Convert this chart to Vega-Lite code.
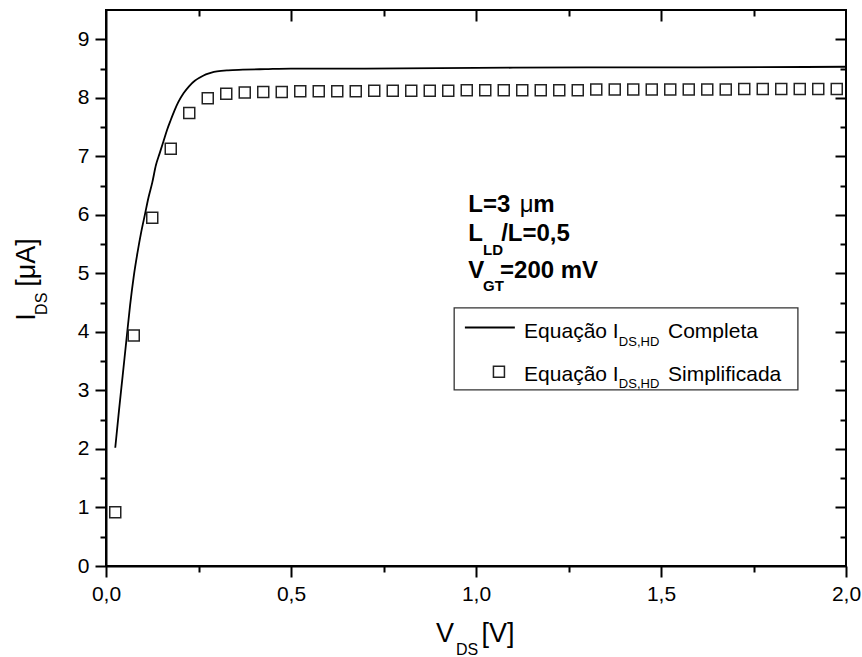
{
  "$schema": "https://vega.github.io/schema/vega-lite/v6.json",
  "width": 740,
  "height": 556,
  "autosize": {"type": "none"},
  "padding": {"left": 106, "top": 10, "right": 16, "bottom": 91},
  "background": "white",
  "config": {
    "view": {"stroke": "black", "strokeWidth": 2}
  },
  "datasets": {
    "completa": [
      {"V": 0.025, "I": 2.02}, {"V": 0.035, "I": 2.65}, {"V": 0.045, "I": 3.25}, {"V": 0.055, "I": 3.85},
      {"V": 0.065, "I": 4.45}, {"V": 0.075, "I": 4.95}, {"V": 0.085, "I": 5.35}, {"V": 0.095, "I": 5.7},
      {"V": 0.105, "I": 6.0}, {"V": 0.115, "I": 6.3}, {"V": 0.125, "I": 6.55}, {"V": 0.135, "I": 6.85},
      {"V": 0.145, "I": 7.05}, {"V": 0.155, "I": 7.25}, {"V": 0.165, "I": 7.45}, {"V": 0.175, "I": 7.62},
      {"V": 0.185, "I": 7.78}, {"V": 0.195, "I": 7.92}, {"V": 0.21, "I": 8.08}, {"V": 0.225, "I": 8.2},
      {"V": 0.24, "I": 8.29}, {"V": 0.255, "I": 8.35}, {"V": 0.27, "I": 8.4}, {"V": 0.285, "I": 8.43},
      {"V": 0.3, "I": 8.45}, {"V": 0.33, "I": 8.47}, {"V": 0.37, "I": 8.48}, {"V": 0.43, "I": 8.49},
      {"V": 0.5, "I": 8.5}, {"V": 0.7, "I": 8.5}, {"V": 1.0, "I": 8.51}, {"V": 1.3, "I": 8.52},
      {"V": 1.6, "I": 8.52}, {"V": 2.0, "I": 8.53}
    ],
    "simplificada": [
      {"V": 0.025, "I": 0.92}, {"V": 0.075, "I": 3.94}, {"V": 0.125, "I": 5.95}, {"V": 0.175, "I": 7.13},
      {"V": 0.225, "I": 7.74}, {"V": 0.275, "I": 7.99}, {"V": 0.325, "I": 8.07}, {"V": 0.375, "I": 8.09},
      {"V": 0.425, "I": 8.1}, {"V": 0.475, "I": 8.1}, {"V": 0.525, "I": 8.11}, {"V": 0.575, "I": 8.11},
      {"V": 0.625, "I": 8.11}, {"V": 0.675, "I": 8.11}, {"V": 0.725, "I": 8.12}, {"V": 0.775, "I": 8.12},
      {"V": 0.825, "I": 8.12}, {"V": 0.875, "I": 8.12}, {"V": 0.925, "I": 8.12}, {"V": 0.975, "I": 8.13},
      {"V": 1.025, "I": 8.13}, {"V": 1.075, "I": 8.13}, {"V": 1.125, "I": 8.13}, {"V": 1.175, "I": 8.13},
      {"V": 1.225, "I": 8.13}, {"V": 1.275, "I": 8.13}, {"V": 1.325, "I": 8.14}, {"V": 1.375, "I": 8.14},
      {"V": 1.425, "I": 8.14}, {"V": 1.475, "I": 8.14}, {"V": 1.525, "I": 8.14}, {"V": 1.575, "I": 8.14},
      {"V": 1.625, "I": 8.14}, {"V": 1.675, "I": 8.14}, {"V": 1.725, "I": 8.15}, {"V": 1.775, "I": 8.15},
      {"V": 1.825, "I": 8.15}, {"V": 1.875, "I": 8.15}, {"V": 1.925, "I": 8.15}, {"V": 1.975, "I": 8.15}
    ]
  },
  "resolve": {"axis": {"x": "independent", "y": "independent"}},
  "layer": [
    {
      "data": {"name": "completa"},
      "mark": {"type": "line", "color": "black", "strokeWidth": 1.8, "interpolate": "monotone"},
      "encoding": {
        "x": {"field": "V", "type": "quantitative", "scale": {"domain": [0, 2], "nice": false, "zero": false},
          "axis": {"orient": "bottom", "values": [0, 0.5, 1, 1.5, 2], "grid": false, "domain": true, "domainColor": "black", "domainWidth": 2, "tickColor": "black", "tickWidth": 2, "tickSize": 11, "labelPadding": 6, "labelFont": "Liberation Sans", "labelFontSize": 21, "labelColor": "black", "labelExpr": "replace(format(datum.value, '.1f'), '.', ',')", "title": null, "labelFlush": false, "labelOverlap": false}},
        "y": {"field": "I", "type": "quantitative", "scale": {"domain": [0, 9.5], "nice": false},
          "axis": {"orient": "left", "values": [0, 1, 2, 3, 4, 5, 6, 7, 8, 9], "grid": false, "domain": true, "domainColor": "black", "domainWidth": 2, "tickColor": "black", "tickWidth": 2, "tickSize": 11, "labelPadding": 6, "labelFont": "Liberation Sans", "labelFontSize": 21, "labelColor": "black", "format": "d", "title": null, "labelFlush": false, "labelOverlap": false}}
      }
    },
    {
      "data": {"name": "simplificada"},
      "mark": {"type": "point", "shape": "square", "filled": false, "size": 121, "color": "#222222", "strokeWidth": 1.5, "opacity": 1},
      "encoding": {
        "x": {"field": "V", "type": "quantitative", "axis": {"orient": "bottom", "values": [0.25, 0.75, 1.25, 1.75], "grid": false, "tickColor": "black", "tickWidth": 2, "tickSize": 6, "labels": false, "domain": false, "title": null}},
        "y": {"field": "I", "type": "quantitative", "axis": {"orient": "left", "values": [0.5, 1.5, 2.5, 3.5, 4.5, 5.5, 6.5, 7.5, 8.5], "grid": false, "tickColor": "black", "tickWidth": 2, "tickSize": 6, "labels": false, "domain": false, "title": null}}
      }
    },
    {
      "data": {"name": "completa"},
      "mark": {"type": "point", "opacity": 0},
      "encoding": {
        "x": {"field": "V", "type": "quantitative", "axis": {"orient": "top", "values": [0.5, 1, 1.5], "grid": false, "tickColor": "black", "tickWidth": 2, "tickSize": 11, "offset": -11, "labels": false, "domain": false, "title": null}},
        "y": {"field": "I", "type": "quantitative", "axis": {"orient": "right", "values": [1, 2, 3, 4, 5, 6, 7, 8, 9], "grid": false, "tickColor": "black", "tickWidth": 2, "tickSize": 11, "offset": -11, "labels": false, "domain": false, "title": null}}
      }
    },
    {
      "data": {"name": "completa"},
      "mark": {"type": "point", "opacity": 0},
      "encoding": {
        "x": {"field": "V", "type": "quantitative", "axis": {"orient": "top", "values": [0.25, 0.75, 1.25, 1.75], "grid": false, "tickColor": "black", "tickWidth": 2, "tickSize": 6, "offset": -6, "labels": false, "domain": false, "title": null}},
        "y": {"field": "I", "type": "quantitative", "axis": {"orient": "right", "values": [0.5, 1.5, 2.5, 3.5, 4.5, 5.5, 6.5, 7.5, 8.5], "grid": false, "tickColor": "black", "tickWidth": 2, "tickSize": 6, "offset": -6, "labels": false, "domain": false, "title": null}}
      }
    },
    {"data": {"values": [{}]}, "mark": {"type": "rect", "fill": "white", "fillOpacity": 0, "stroke": "#333333", "strokeWidth": 1.3},
      "encoding": {"x": {"datum": 0.941, "axis": null}, "x2": {"datum": 1.87}, "y": {"datum": 4.41, "axis": null}, "y2": {"datum": 3.01}}},
    {"data": {"values": [{}]}, "mark": {"type": "rule", "color": "black", "strokeWidth": 1.8},
      "encoding": {"x": {"datum": 0.97, "axis": null}, "x2": {"datum": 1.105}, "y": {"datum": 4.075, "axis": null}}},
    {"data": {"values": [{}]}, "mark": {"type": "point", "shape": "square", "filled": false, "size": 121, "color": "#222222", "strokeWidth": 1.5, "opacity": 1},
      "encoding": {"x": {"datum": 1.062, "axis": null}, "y": {"datum": 3.32, "axis": null}}},
    {"data": {"values": [{}]}, "mark": {"type": "text", "text": "Equação I", "font": "Liberation Sans", "fontSize": 21, "color": "black", "align": "left", "baseline": "alphabetic"},
      "encoding": {"x": {"datum": 1.13, "axis": null}, "y": {"datum": 3.894, "axis": null}}},
    {"data": {"values": [{}]}, "mark": {"type": "text", "text": "DS,HD", "font": "Liberation Sans", "fontSize": 13, "color": "black", "align": "left", "baseline": "alphabetic"},
      "encoding": {"x": {"datum": 1.386, "axis": null}, "y": {"datum": 3.753, "axis": null}}},
    {"data": {"values": [{}]}, "mark": {"type": "text", "text": "Completa", "font": "Liberation Sans", "fontSize": 21, "color": "black", "align": "left", "baseline": "alphabetic"},
      "encoding": {"x": {"datum": 1.519, "axis": null}, "y": {"datum": 3.894, "axis": null}}},
    {"data": {"values": [{}]}, "mark": {"type": "text", "text": "Equação I", "font": "Liberation Sans", "fontSize": 21, "color": "black", "align": "left", "baseline": "alphabetic"},
      "encoding": {"x": {"datum": 1.13, "axis": null}, "y": {"datum": 3.163, "axis": null}}},
    {"data": {"values": [{}]}, "mark": {"type": "text", "text": "DS,HD", "font": "Liberation Sans", "fontSize": 13, "color": "black", "align": "left", "baseline": "alphabetic"},
      "encoding": {"x": {"datum": 1.386, "axis": null}, "y": {"datum": 3.038, "axis": null}}},
    {"data": {"values": [{}]}, "mark": {"type": "text", "text": "Simplificada", "font": "Liberation Sans", "fontSize": 21, "color": "black", "align": "left", "baseline": "alphabetic"},
      "encoding": {"x": {"datum": 1.519, "axis": null}, "y": {"datum": 3.163, "axis": null}}},
    {"data": {"values": [{}]}, "mark": {"type": "text", "text": "L=3 ", "font": "Liberation Sans", "fontSize": 24, "fontWeight": "bold", "color": "black", "align": "left", "baseline": "alphabetic"},
      "encoding": {"x": {"datum": 0.979, "axis": null}, "y": {"datum": 6.051, "axis": null}}},
    {"data": {"values": [{}]}, "mark": {"type": "text", "text": "μ", "font": "Liberation Sans", "fontSize": 24, "color": "black", "align": "left", "baseline": "alphabetic"},
      "encoding": {"x": {"datum": 1.118, "axis": null}, "y": {"datum": 6.051, "axis": null}}},
    {"data": {"values": [{}]}, "mark": {"type": "text", "text": "m", "font": "Liberation Sans", "fontSize": 24, "fontWeight": "bold", "color": "black", "align": "left", "baseline": "alphabetic"},
      "encoding": {"x": {"datum": 1.155, "axis": null}, "y": {"datum": 6.051, "axis": null}}},
    {"data": {"values": [{}]}, "mark": {"type": "text", "text": "L", "font": "Liberation Sans", "fontSize": 24, "fontWeight": "bold", "color": "black", "align": "left", "baseline": "alphabetic"},
      "encoding": {"x": {"datum": 0.979, "axis": null}, "y": {"datum": 5.548, "axis": null}}},
    {"data": {"values": [{}]}, "mark": {"type": "text", "text": "LD", "font": "Liberation Sans", "fontSize": 15, "fontWeight": "bold", "color": "black", "align": "left", "baseline": "alphabetic"},
      "encoding": {"x": {"datum": 1.019, "axis": null}, "y": {"datum": 5.32, "axis": null}}},
    {"data": {"values": [{}]}, "mark": {"type": "text", "text": "/L=0,5", "font": "Liberation Sans", "fontSize": 24, "fontWeight": "bold", "color": "black", "align": "left", "baseline": "alphabetic"},
      "encoding": {"x": {"datum": 1.068, "axis": null}, "y": {"datum": 5.548, "axis": null}}},
    {"data": {"values": [{}]}, "mark": {"type": "text", "text": "V", "font": "Liberation Sans", "fontSize": 24, "fontWeight": "bold", "color": "black", "align": "left", "baseline": "alphabetic"},
      "encoding": {"x": {"datum": 0.979, "axis": null}, "y": {"datum": 4.921, "axis": null}}},
    {"data": {"values": [{}]}, "mark": {"type": "text", "text": "GT", "font": "Liberation Sans", "fontSize": 15, "fontWeight": "bold", "color": "black", "align": "left", "baseline": "alphabetic"},
      "encoding": {"x": {"datum": 1.019, "axis": null}, "y": {"datum": 4.692, "axis": null}}},
    {"data": {"values": [{}]}, "mark": {"type": "text", "text": "=200 mV", "font": "Liberation Sans", "fontSize": 24, "fontWeight": "bold", "color": "black", "align": "left", "baseline": "alphabetic"},
      "encoding": {"x": {"datum": 1.065, "axis": null}, "y": {"datum": 4.921, "axis": null}}},
    {"data": {"values": [{}]}, "mark": {"type": "text", "text": "V", "font": "Liberation Sans", "fontSize": 27, "color": "black", "align": "left", "baseline": "alphabetic"},
      "encoding": {"x": {"datum": 0.892, "axis": null}, "y": {"datum": -1.301, "axis": null}}},
    {"data": {"values": [{}]}, "mark": {"type": "text", "text": "DS", "font": "Liberation Sans", "fontSize": 16, "color": "black", "align": "left", "baseline": "alphabetic"},
      "encoding": {"x": {"datum": 0.946, "axis": null}, "y": {"datum": -1.517, "axis": null}}},
    {"data": {"values": [{}]}, "mark": {"type": "text", "text": "[V]", "font": "Liberation Sans", "fontSize": 27, "color": "black", "align": "left", "baseline": "alphabetic"},
      "encoding": {"x": {"datum": 1.015, "axis": null}, "y": {"datum": -1.301, "axis": null}}},
    {"data": {"values": [{}]}, "mark": {"type": "text", "text": "I", "font": "Liberation Sans", "fontSize": 27, "angle": 270, "color": "black", "align": "left", "baseline": "alphabetic"},
      "encoding": {"x": {"datum": -0.192, "axis": null}, "y": {"datum": 4.19, "axis": null}}},
    {"data": {"values": [{}]}, "mark": {"type": "text", "text": "DS", "font": "Liberation Sans", "fontSize": 16, "angle": 270, "color": "black", "align": "left", "baseline": "alphabetic"},
      "encoding": {"x": {"datum": -0.16, "axis": null}, "y": {"datum": 4.29, "axis": null}}},
    {"data": {"values": [{}]}, "mark": {"type": "text", "text": "[μA]", "font": "Liberation Sans", "fontSize": 27, "angle": 270, "color": "black", "align": "left", "baseline": "alphabetic"},
      "encoding": {"x": {"datum": -0.192, "axis": null}, "y": {"datum": 4.77, "axis": null}}}
  ]
}
